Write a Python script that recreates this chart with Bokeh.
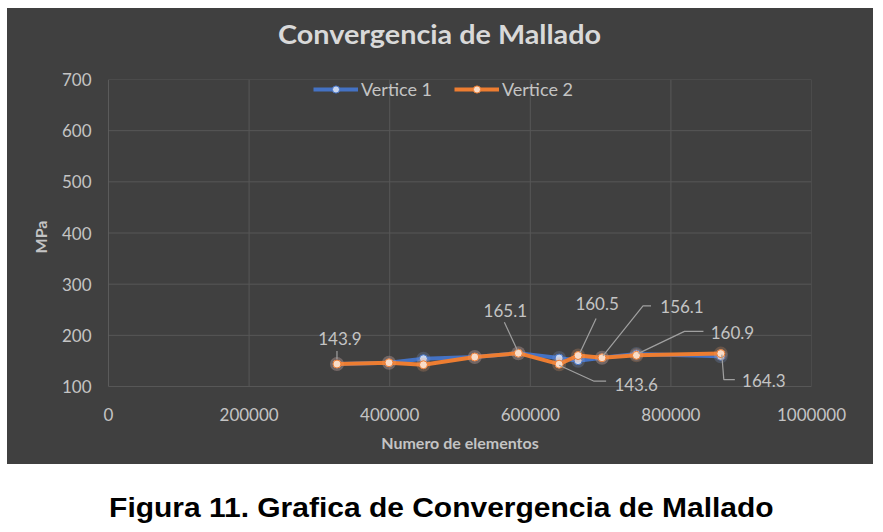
from bokeh.plotting import figure
from bokeh.models import (Range1d, FixedTicker, Legend, LegendItem, Div,
                          ColumnDataSource, NumeralTickFormatter)
from bokeh.layouts import column
from bokeh.core.properties import value
from bokeh.embed import file_html
from bokeh.resources import INLINE

# Mesh size (number of elements) and maximum stress (MPa) for the two vertices
elementos = [325000, 399000, 448000, 521000, 583000, 641000, 668000, 702000, 751000, 871000]
vertice_1 = [143.9, 146.4, 154.3, 157.6, 165.1, 155.6, 150.4, 156.1, 163.5, 159.0]
vertice_2 = [143.9, 146.4, 142.5, 157.6, 165.1, 143.6, 160.5, 156.1, 160.9, 164.3]

x_ticks = [0, 200000, 400000, 600000, 800000, 1000000]
y_ticks = [100, 200, 300, 400, 500, 600, 700]

titulo = "Convergencia de Mallado"
pie = "Figura 11. Grafica de Convergencia de Mallado"

# Points of "Vertice 2" that carry a data label
etiquetados = [0, 4, 5, 6, 7, 8, 9]

# Label layout in screen pixels (dx right, dy down) relative to the point:
# text centre, then the leader line vertices
label_text_off = {0: (3, -26), 4: (-13, -43), 5: (77, 20), 6: (19, -52),
                  7: (80, -51), 8: (96, -23), 9: (43, 27)}
leader_off = {0: [(0, -5), (0, -13)],
              4: [(-1, -3), (-14, -31)],
              5: [(0, 1), (35, 17), (47, 17)],
              6: [(2, -3), (18, -37)],
              7: [(1, -2), (41, -52), (49, -52)],
              8: [(2, -2), (48, -24), (67, -24)],
              9: [(1, 1), (3, 26), (14, 26)]}

BG = "#404040"
GRID = "#575757"
TXT = "#c4c4c4"
BLUE = "#4472c4"
ORANGE = "#ed7d31"
FONT = "Lato"

W = 866                          # width of the dark chart panel
TITLE_H = 50                     # height of the title strip on top of the plot
H = 406
ML, MR, MT, MB = 101, 62, 21, 70
PLOT_W, PLOT_H = 703, 307        # pixel extent of the 0..1e6 x 100..700 value box
EXT = 8                          # extra room below the value box for the lower labels
X0, X1, Y0, Y1 = 0, 1000000, 100, 700
ux = (X1 - X0) / PLOT_W
uy = (Y1 - Y0) / PLOT_H

title_div = Div(
    text=f'<div style="width:{W}px;height:{TITLE_H}px;box-sizing:border-box;padding-top:12px;'
         f'text-align:center;font-family:{FONT},sans-serif;font-weight:bold;font-size:27px;'
         f'line-height:27px;color:#d9d9d9;">'
         f'<span style="display:inline-block;transform:scaleX(1.066);">{titulo}</span></div>',
    width=W, height=TITLE_H, margin=0)

p = figure(width=W, height=H, output_backend="svg", toolbar_location=None,
           x_range=Range1d(X0, X1), y_range=Range1d(Y0 - EXT * uy, Y1),
           min_border_left=ML, min_border_right=MR, min_border_top=MT, min_border_bottom=MB,
           background_fill_color=BG, border_fill_color=BG, margin=0)
p.outline_line_color = None
p.xgrid.visible = False
p.ygrid.visible = False

# axes
p.xaxis.ticker = FixedTicker(ticks=x_ticks)
p.yaxis.ticker = FixedTicker(ticks=y_ticks)
p.xaxis.formatter = NumeralTickFormatter(format="0")
for ax in (p.xaxis[0], p.yaxis[0]):
    ax.axis_line_color = None
    ax.major_tick_line_color = None
    ax.minor_tick_line_color = None
    ax.major_label_text_font = FONT
    ax.major_label_text_font_size = "17px"
    ax.major_label_text_color = TXT
    ax.axis_label_text_font = FONT
    ax.axis_label_text_font_size = "16px"
    ax.axis_label_text_font_style = "bold"
    ax.axis_label_text_color = TXT
p.xaxis.major_label_standoff = 7
p.yaxis.major_label_standoff = 11
p.xaxis.axis_label = "Numero de elementos"
p.yaxis.axis_label = "MPa"
p.xaxis.axis_label_standoff = 9
p.yaxis.axis_label_standoff = 9

# gridlines over the value box, and the value axis line at x = 0
nx, ny = len(x_ticks) - 1, len(y_ticks)
p.segment(x0=x_ticks[1:], y0=[Y0] * nx, x1=x_ticks[1:], y1=[Y1] * nx,
          line_color=GRID, line_width=1)
p.segment(x0=[X0] * ny, y0=y_ticks, x1=[X1] * ny, y1=y_ticks,
          line_color=GRID, line_width=1)
p.segment(x0=[X0], y0=[Y0], x1=[X0], y1=[Y1], line_color="#777777", line_width=1)

src = ColumnDataSource(dict(x=elementos, v1=vertice_1, v2=vertice_2))

# series: line, soft glow around the markers, pale markers
l1 = p.line("x", "v1", source=src, line_color=BLUE, line_width=4)
g1 = p.scatter("x", "v1", source=src, size=14, fill_color="#7f9fdc", fill_alpha=0.22, line_color=None)
m1 = p.scatter("x", "v1", source=src, size=8, fill_color="#c9d6ef", line_color=BLUE, line_width=1)
l2 = p.line("x", "v2", source=src, line_color=ORANGE, line_width=4)
g2 = p.scatter("x", "v2", source=src, size=14, fill_color="#f4a36c", fill_alpha=0.22, line_color=None)
m2 = p.scatter("x", "v2", source=src, size=8, fill_color="#f9dcc8", line_color=ORANGE, line_width=1)

# data labels with leader lines
lx, ly, lt, ldx, ldy = [], [], [], [], []
xs, ys = [], []
for i in etiquetados:
    lx.append(elementos[i])
    ly.append(vertice_2[i])
    lt.append(f"{vertice_2[i]:.1f}")
    dx, dy = label_text_off[i]
    ldx.append(dx)
    ldy.append(dy)
    xs.append([elementos[i] + a * ux for a, b in leader_off[i]])
    ys.append([vertice_2[i] - b * uy for a, b in leader_off[i]])
p.multi_line(xs, ys, line_color="#a0a0a0", line_width=1.2)
p.text(x=lx, y=ly, text=lt, x_offset=ldx, y_offset=ldy, text_align="center",
       text_baseline="middle", text_font=value(FONT), text_font_size="17px",
       text_color=TXT)

legend = Legend(items=[LegendItem(label="Vertice 1", renderers=[l1, g1, m1]),
                       LegendItem(label="Vertice 2", renderers=[l2, g2, m2])],
                location=(205, PLOT_H + EXT - 21), orientation="horizontal",
                background_fill_alpha=0, border_line_color=None,
                padding=0, margin=0, spacing=22, glyph_width=45, glyph_height=18,
                label_height=18, label_standoff=3, label_text_font=FONT,
                label_text_font_size="18px", label_text_color=TXT)
p.add_layout(legend)

# dark panel holding the title strip and the plot
panel = column(title_div, p, spacing=0, width=W, margin=(8, 0, 0, 7),
               styles={"background-color": BG})

caption = Div(
    text='<div style="width:883px;text-align:center;margin-top:31px;'
         'font-family:\'Liberation Sans\',Arial,sans-serif;font-weight:bold;'
         'font-size:27px;line-height:27px;color:#000;">'
         f'<span style="display:inline-block;transform:scaleX(1.11);">{pie}</span></div>',
    width=883, height=68, margin=0)

layout = column(panel, caption, spacing=0)
open("out.html", "w").write(file_html(layout, INLINE))
